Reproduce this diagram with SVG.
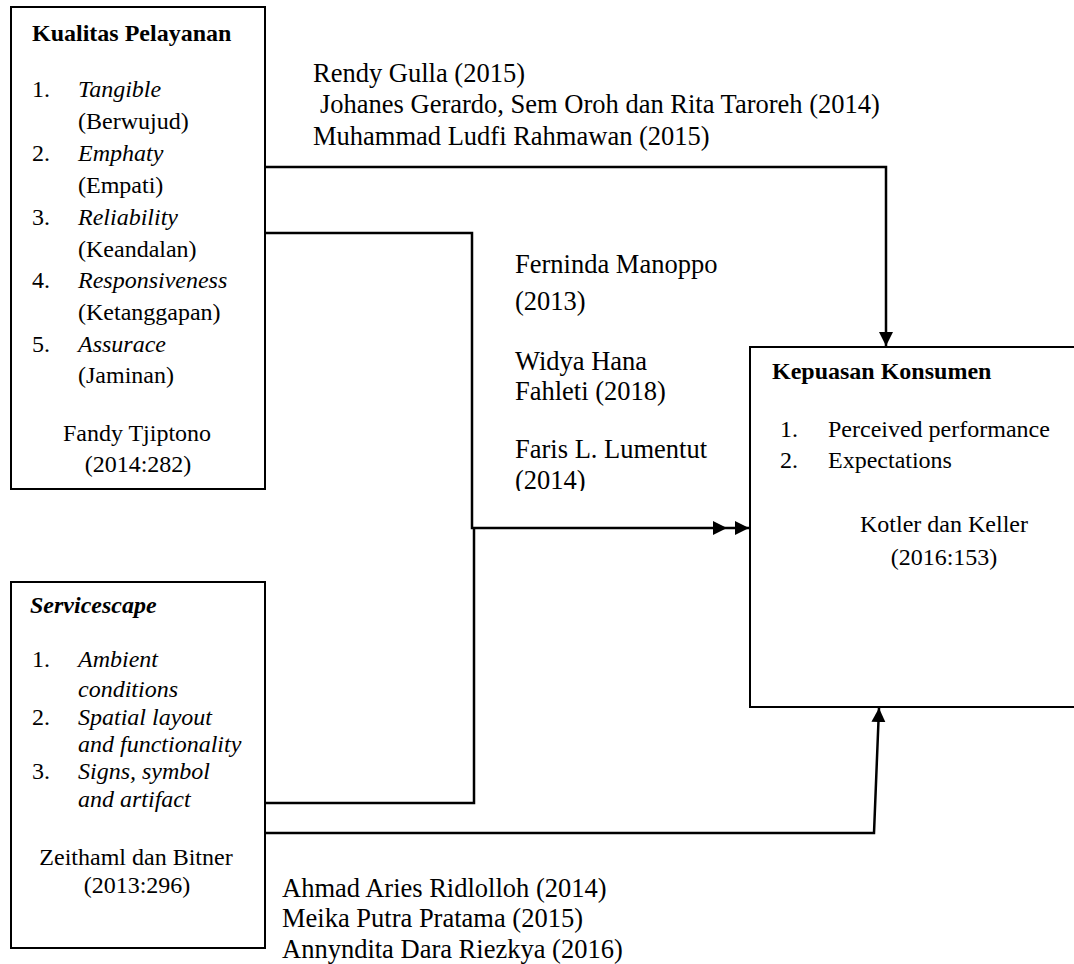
<svg xmlns="http://www.w3.org/2000/svg" width="1074" height="964" viewBox="0 0 1074 964">
<style>
text{font-family:"Liberation Serif","Times New Roman",serif;fill:#000}
.s{font-size:24px}
.m{font-size:26.5px}
.b{font-weight:bold}
.i{font-style:italic}
.c{text-anchor:middle}
.box{fill:#fff;stroke:#000;stroke-width:2}
.conn{fill:none;stroke:#000;stroke-width:2.5}
</style>
<defs>
<marker id="ah" markerUnits="userSpaceOnUse" markerWidth="15" markerHeight="15" refX="14" refY="7" orient="auto">
<path d="M0,0 L14,7 L0,14 z" fill="#000"/>
</marker>
<marker id="ah2" markerUnits="userSpaceOnUse" markerWidth="37" markerHeight="15" refX="36" refY="7" orient="auto">
<path d="M0,0 L14,7 L0,14 z M22,0 L36,7 L22,14 z" fill="#000"/>
</marker>
<clipPath id="clipMid"><rect x="480" y="240" width="260" height="251"/></clipPath>
</defs>

<g id="connectors">
<path class="conn" d="M265,167 H886 V346" marker-end="url(#ah)"/>
<path class="conn" d="M265,233 H472 V528 H749" marker-end="url(#ah2)"/>
<path class="conn" d="M265,803 H474 V528"/>
<path class="conn" d="M265,833 H874 L879,708" marker-end="url(#ah)"/>
</g>

<g id="kualitas-pelayanan">
<rect class="box" x="11" y="7" width="254" height="482"/>
<text class="s b" x="32" y="41">Kualitas Pelayanan</text>
<text class="s" x="32" y="97">1.</text><text class="s i" x="78" y="97">Tangible</text>
<text class="s" x="78" y="129">(Berwujud)</text>
<text class="s" x="32" y="161">2.</text><text class="s i" x="78" y="161">Emphaty</text>
<text class="s" x="78" y="193">(Empati)</text>
<text class="s" x="32" y="225">3.</text><text class="s i" x="78" y="225">Reliability</text>
<text class="s" x="78" y="257">(Keandalan)</text>
<text class="s" x="32" y="288">4.</text><text class="s i" x="78" y="288">Responsiveness</text>
<text class="s" x="78" y="320">(Ketanggapan)</text>
<text class="s" x="32" y="352">5.</text><text class="s i" x="78" y="352">Assurace</text>
<text class="s" x="78" y="383">(Jaminan)</text>
<text class="s c" x="137" y="441">Fandy Tjiptono</text>
<text class="s c" x="138" y="472">(2014:282)</text>
</g>

<g id="servicescape">
<rect class="box" x="11" y="582" width="254" height="366"/>
<text class="s b i" x="30" y="613">Servicescape</text>
<text class="s" x="32" y="667">1.</text><text class="s i" x="78" y="667">Ambient</text>
<text class="s i" x="78" y="697">conditions</text>
<text class="s" x="32" y="725">2.</text><text class="s i" x="78" y="725">Spatial layout</text>
<text class="s i" x="78" y="752">and functionality</text>
<text class="s" x="32" y="779">3.</text><text class="s i" x="78" y="779">Signs, symbol</text>
<text class="s i" x="78" y="807">and artifact</text>
<text class="s c" x="136" y="865">Zeithaml dan Bitner</text>
<text class="s c" x="137" y="893">(2013:296)</text>
</g>

<g id="kepuasan-konsumen">
<rect class="box" x="750" y="347" width="340" height="360"/>
<text class="s b" x="772" y="379">Kepuasan Konsumen</text>
<text class="s" x="780" y="437">1.</text><text class="s" x="828" y="437">Perceived performance</text>
<text class="s" x="780" y="468">2.</text><text class="s" x="828" y="468">Expectations</text>
<text class="s c" x="944" y="532">Kotler dan Keller</text>
<text class="s c" x="944" y="565">(2016:153)</text>
</g>

<g id="label-top">
<text class="m" x="313" y="82">Rendy Gulla (2015)</text>
<text class="m" x="320" y="113">Johanes Gerardo, Sem Oroh dan Rita Taroreh (2014)</text>
<text class="m" x="313" y="145">Muhammad Ludfi Rahmawan (2015)</text>
</g>

<g id="label-middle" clip-path="url(#clipMid)">
<text class="m" x="515" y="273">Ferninda Manoppo</text>
<text class="m" x="515" y="310">(2013)</text>
<text class="m" x="515" y="370">Widya Hana</text>
<text class="m" x="515" y="400">Fahleti (2018)</text>
<text class="m" x="515" y="458">Faris L. Lumentut</text>
<text class="m" x="515" y="489">(2014)</text>
</g>

<g id="label-bottom">
<text class="m" x="282" y="897">Ahmad Aries Ridlolloh (2014)</text>
<text class="m" x="282" y="927">Meika Putra Pratama (2015)</text>
<text class="m" x="282" y="958">Annyndita Dara Riezkya (2016)</text>
</g>
</svg>
